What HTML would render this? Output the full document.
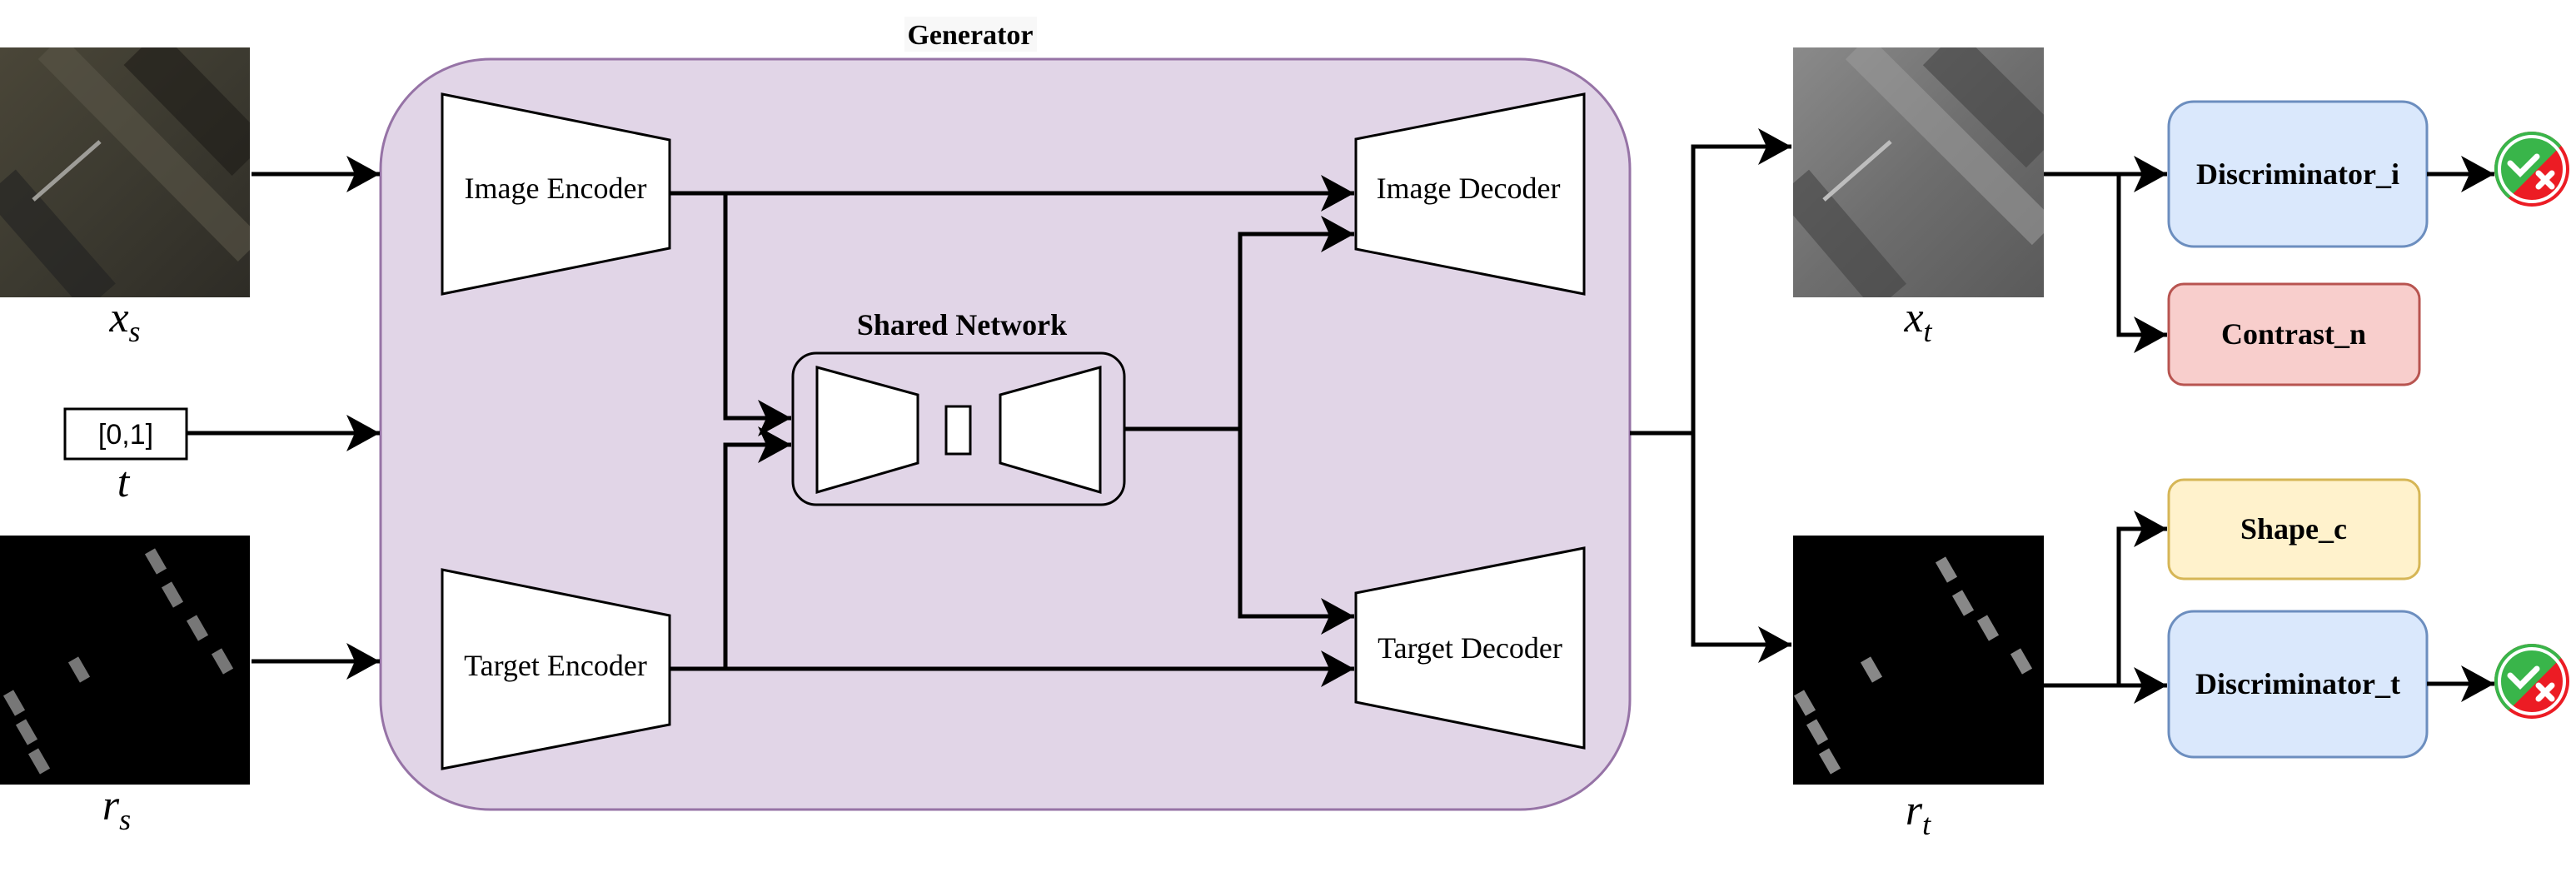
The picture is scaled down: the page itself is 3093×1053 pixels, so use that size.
<!DOCTYPE html>
<html><head><meta charset="utf-8"><style>
html,body{margin:0;padding:0;background:#fff;}
svg{display:block;}
.t{font-family:"Liberation Serif",serif;}
</style></head><body>
<svg width="3093" height="1053" viewBox="0 0 3093 1053" xmlns="http://www.w3.org/2000/svg">
<defs>
<marker id="a" markerUnits="userSpaceOnUse" markerWidth="44" markerHeight="48" refX="40" refY="24" orient="auto">
<path d="M0,2 L40,24 L0,46 L10,24 Z" fill="#000"/>
</marker>
<linearGradient id="gs" x1="0" y1="0" x2="1" y2="1">
<stop offset="0" stop-color="#4a4638"/><stop offset="0.5" stop-color="#3c3a30"/><stop offset="1" stop-color="#2e2c26"/></linearGradient>
<linearGradient id="gt" x1="0" y1="0" x2="1" y2="1">
<stop offset="0" stop-color="#8a8a8a"/><stop offset="0.5" stop-color="#6e6e6e"/><stop offset="1" stop-color="#5a5a5a"/></linearGradient>
<clipPath id="c1"><rect x="0" y="57" width="300" height="300"/></clipPath>
<clipPath id="c2"><rect x="2153" y="57" width="301" height="300"/></clipPath>
<clipPath id="ci1"><circle cx="3040" cy="203" r="45"/></clipPath>
<clipPath id="ci2"><circle cx="3040" cy="818" r="45"/></clipPath>
</defs>

<rect x="457" y="71" width="1500" height="901" rx="132" ry="132" fill="#e1d5e7" stroke="#9673a6" stroke-width="3"/>
<rect x="1086" y="20" width="159" height="42" fill="#f8f8f8"/>
<text class="t" x="1165" y="53" font-size="34" font-weight="bold" text-anchor="middle">Generator</text>

<rect x="0" y="57" width="300" height="300" fill="url(#gs)"/>
<g clip-path="url(#c1)" opacity="0.6">
<path d="M60,57 L300,300" stroke="#5a5648" stroke-width="40"/>
<path d="M170,57 L300,190" stroke="#1e1c18" stroke-width="60"/>
<path d="M0,220 L120,357" stroke="#222" stroke-width="50"/>
<path d="M40,240 L120,170" stroke="#ddd" stroke-width="5"/>
</g>
<text class="t" x="150" y="398" font-size="52" font-style="italic" text-anchor="middle">x<tspan font-size="36" dy="12">s</tspan></text>

<rect x="78" y="491" width="146" height="60" fill="#fff" stroke="#000" stroke-width="3"/>
<text x="151" y="533" font-family="Liberation Sans,sans-serif" font-size="34" text-anchor="middle">[0,1]</text>
<text class="t" x="148" y="596" font-size="52" font-style="italic" text-anchor="middle">t</text>

<rect x="0" y="643" width="300" height="299" fill="#000"/>
<g fill="#777">
<rect x="180" y="660" width="14" height="28" transform="rotate(-30 187 674)"/>
<rect x="200" y="700" width="14" height="28" transform="rotate(-30 207 714)"/>
<rect x="230" y="740" width="14" height="28" transform="rotate(-30 237 754)"/>
<rect x="260" y="780" width="14" height="28" transform="rotate(-30 267 794)"/>
<rect x="88" y="790" width="14" height="28" transform="rotate(-30 95 804)"/>
<rect x="10" y="830" width="14" height="28" transform="rotate(-30 17 844)"/>
<rect x="25" y="865" width="14" height="28" transform="rotate(-30 32 879)"/>
<rect x="40" y="900" width="14" height="28" transform="rotate(-30 47 914)"/>
</g>
<text class="t" x="140" y="984" font-size="52" font-style="italic" text-anchor="middle">r<tspan font-size="36" dy="12">s</tspan></text>

<g stroke="#000" stroke-width="5" fill="none">
<path d="M302,209 L456,209" marker-end="url(#a)"/>
<path d="M224,520 L456,520" marker-end="url(#a)"/>
<path d="M302,794 L456,794" marker-end="url(#a)"/>
</g>

<polygon points="531,113 804,168 804,298 531,353" fill="#fff" stroke="#000" stroke-width="3"/>
<text class="t" x="667" y="238" font-size="36" text-anchor="middle">Image Encoder</text>
<polygon points="531,684 804,739 804,870 531,923" fill="#fff" stroke="#000" stroke-width="3"/>
<text class="t" x="667" y="811" font-size="36" text-anchor="middle">Target Encoder</text>

<polygon points="1628,167 1902,113 1902,353 1628,299" fill="#fff" stroke="#000" stroke-width="3"/>
<text class="t" x="1763" y="238" font-size="36" text-anchor="middle">Image Decoder</text>
<polygon points="1628,712 1902,658 1902,898 1628,843" fill="#fff" stroke="#000" stroke-width="3"/>
<text class="t" x="1765" y="790" font-size="36" text-anchor="middle">Target Decoder</text>

<text class="t" x="1155" y="402" font-size="36" font-weight="bold" text-anchor="middle">Shared Network</text>
<rect x="952" y="424" width="398" height="182" rx="28" ry="28" fill="none" stroke="#000" stroke-width="3"/>
<polygon points="981,441 1102,474 1102,556 981,591" fill="#fff" stroke="#000" stroke-width="3"/>
<rect x="1136" y="488" width="29" height="57" fill="#fff" stroke="#000" stroke-width="3"/>
<polygon points="1201,474 1321,441 1321,591 1201,556" fill="#fff" stroke="#000" stroke-width="3"/>

<g stroke="#000" stroke-width="5" fill="none">
<path d="M804,232 L1626,232" marker-end="url(#a)"/>
<path d="M871,232 L871,502 L950,502" marker-end="url(#a)"/>
<path d="M804,803 L1626,803" marker-end="url(#a)"/>
<path d="M871,803 L871,534 L950,534" marker-end="url(#a)"/>
<path d="M1350,515 L1489,515"/>
<path d="M1489,740 L1489,281 L1626,281" marker-end="url(#a)"/>
<path d="M1489,515 L1489,740 L1626,740" marker-end="url(#a)"/>
<path d="M1957,520 L2033,520"/>
<path d="M2033,520 L2033,176 L2151,176" marker-end="url(#a)"/>
<path d="M2033,520 L2033,774 L2151,774" marker-end="url(#a)"/>
</g>

<rect x="2153" y="57" width="301" height="300" fill="url(#gt)"/>
<g clip-path="url(#c2)" opacity="0.6">
<path d="M2230,57 L2454,280" stroke="#9a9a9a" stroke-width="40"/>
<path d="M2330,57 L2454,180" stroke="#444" stroke-width="60"/>
<path d="M2153,220 L2270,357" stroke="#444" stroke-width="50"/>
<path d="M2190,240 L2270,170" stroke="#eee" stroke-width="5"/>
</g>
<text class="t" x="2303" y="398" font-size="52" font-style="italic" text-anchor="middle">x<tspan font-size="36" dy="12">t</tspan></text>

<rect x="2153" y="643" width="301" height="299" fill="#000"/>
<g fill="#888">
<rect x="2330" y="670" width="14" height="28" transform="rotate(-30 2337 684)"/>
<rect x="2350" y="710" width="14" height="28" transform="rotate(-30 2357 724)"/>
<rect x="2380" y="740" width="14" height="28" transform="rotate(-30 2387 754)"/>
<rect x="2420" y="780" width="14" height="28" transform="rotate(-30 2427 794)"/>
<rect x="2240" y="790" width="14" height="28" transform="rotate(-30 2247 804)"/>
<rect x="2160" y="830" width="14" height="28" transform="rotate(-30 2167 844)"/>
<rect x="2175" y="865" width="14" height="28" transform="rotate(-30 2182 879)"/>
<rect x="2190" y="900" width="14" height="28" transform="rotate(-30 2197 914)"/>
</g>
<text class="t" x="2303" y="990" font-size="52" font-style="italic" text-anchor="middle">r<tspan font-size="36" dy="12">t</tspan></text>

<rect x="2604" y="122" width="310" height="174" rx="30" ry="30" fill="#dae8fc" stroke="#6c8ebf" stroke-width="3"/>
<text class="t" x="2759" y="221" font-size="36" font-weight="bold" text-anchor="middle">Discriminator_i</text>
<rect x="2604" y="341" width="301" height="121" rx="18" ry="18" fill="#f8cecc" stroke="#b85450" stroke-width="3"/>
<text class="t" x="2754" y="413" font-size="36" font-weight="bold" text-anchor="middle">Contrast_n</text>
<rect x="2604" y="576" width="301" height="119" rx="18" ry="18" fill="#fff2cc" stroke="#d6b656" stroke-width="3"/>
<text class="t" x="2754" y="647" font-size="36" font-weight="bold" text-anchor="middle">Shape_c</text>
<rect x="2604" y="734" width="310" height="175" rx="30" ry="30" fill="#dae8fc" stroke="#6c8ebf" stroke-width="3"/>
<text class="t" x="2759" y="833" font-size="36" font-weight="bold" text-anchor="middle">Discriminator_t</text>

<g stroke="#000" stroke-width="5" fill="none">
<path d="M2454,209 L2602,209" marker-end="url(#a)"/>
<path d="M2544,209 L2544,402 L2602,402" marker-end="url(#a)"/>
<path d="M2454,823 L2602,823" marker-end="url(#a)"/>
<path d="M2544,823 L2544,635 L2602,635" marker-end="url(#a)"/>
<path d="M2914,209 L2995,209" marker-end="url(#a)"/>
<path d="M2914,821 L2995,821" marker-end="url(#a)"/>
</g>

<g>
<g clip-path="url(#ci1)">
<rect x="2990" y="150" width="110" height="110" fill="#ec1c24"/>
<polygon points="2990,150 3100,150 2990,260" fill="#39b54a"/>
</g>
<circle cx="3040" cy="203" r="39" fill="none" stroke="#fff" stroke-width="4"/>
<path d="M3014,196 L3026,208 L3046,188" stroke="#fff" stroke-width="7" fill="none" stroke-linecap="round"/>
<path d="M3048,208 L3064,224 M3064,208 L3048,224" stroke="#fff" stroke-width="7" stroke-linecap="round"/>
</g>
<g>
<g clip-path="url(#ci2)">
<rect x="2990" y="765" width="110" height="110" fill="#ec1c24"/>
<polygon points="2990,765 3100,765 2990,875" fill="#39b54a"/>
</g>
<circle cx="3040" cy="818" r="39" fill="none" stroke="#fff" stroke-width="4"/>
<path d="M3014,811 L3026,823 L3046,803" stroke="#fff" stroke-width="7" fill="none" stroke-linecap="round"/>
<path d="M3048,823 L3064,839 M3064,823 L3048,839" stroke="#fff" stroke-width="7" stroke-linecap="round"/>
</g>
</svg>
</body></html>
